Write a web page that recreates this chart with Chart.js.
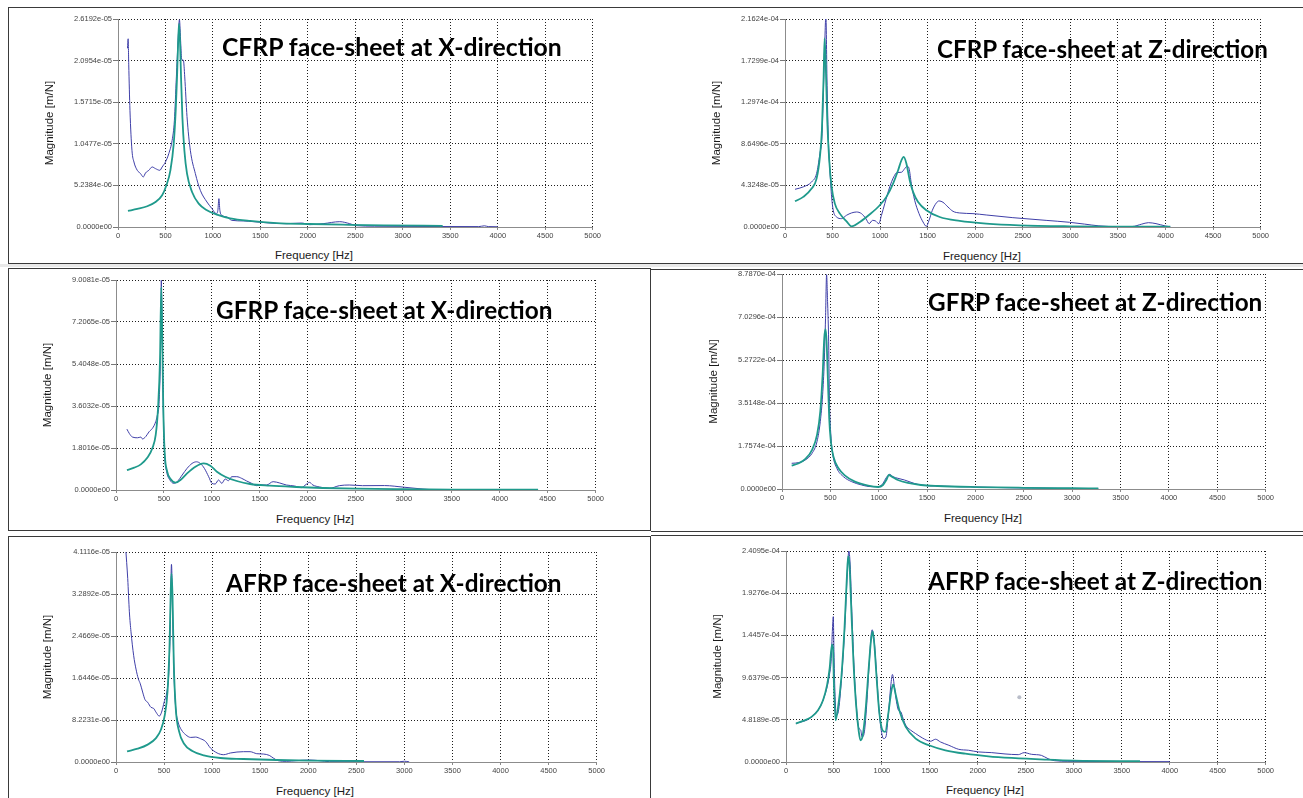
<!DOCTYPE html>
<html>
<head>
<meta charset="utf-8">
<script src="https://cdn.jsdelivr.net/npm/chart.js@4.4.1/dist/chart.umd.min.js"></script>
<style>
  body { margin: 0; width: 1303px; height: 798px; background: #fff; position: relative; overflow: hidden;
         font-family: "Liberation Sans", Arial, sans-serif; }
  .frame { position: absolute; border: 1px solid #3a3a3a; box-sizing: border-box; }
  .rule { position: absolute; height: 1px; background: #3a3a3a; }
  .band { position: absolute; background: #e9e9e9; }
  canvas { position: absolute; }
  .head { position: absolute; font: 700 24px Lato, "Open Sans", sans-serif; color: #000;
          white-space: nowrap; transform-origin: 0 50%; }
  .xtitle { position: absolute; font-size: 11.5px; color: #1a1a1a; white-space: nowrap;
            transform: translate(-50%, -50%); }
</style>
</head>
<body>

<div class="frame" style="left:8px;top:7px;width:1300px;height:257px"></div>
<div class="band" style="left:0;top:264px;width:1303px;height:3px"></div>
<div class="frame" style="left:8px;top:268px;width:643px;height:263px"></div>
<div class="rule" style="left:651px;top:269px;width:652px"></div>
<div class="rule" style="left:651px;top:531px;width:652px"></div>
<div class="rule" style="left:651px;top:535px;width:652px"></div>
<div class="frame" style="left:8px;top:536px;width:643px;height:270px"></div>

<script>
// ---- shared axis data ----
const freqTicks = { min: 0, max: 5000, step: 500 };

// ---- CFRP, X-direction (magnitudes in 1e-6 m/N) ----
const cfrpXLabels = ["0.0000e00", "5.2384e-06", "1.0477e-05", "1.5715e-05", "2.0954e-05", "2.6192e-05"];
const cfrpXMeasF = [100,107,113,126,147,168,203,238,266,290,325,360,395,441,465,500,535,570,594,615,633,647,661,671,689,703,727,762,815,867,937,990,1035,1052,1063,1073,1094,1147,1199,1322,1427,1601,1776,1934,2021,2161,2336,2441,2511,2700,3000,3400,3800,3860,3900,4000];
const cfrpXMeasM = [22.5,23.7,20.5,14.7,9.66,8.19,7.14,6.72,6.30,6.81,7.14,7.56,7.35,7.14,7.56,8.19,9.24,10.9,13.4,18.9,23.5,26.1,23.1,21.1,21.0,18.9,13.9,9.66,6.72,4.62,3.15,2.31,1.68,2.10,3.57,2.10,1.47,1.26,0.84,0.76,0.67,0.50,0.42,0.50,0.29,0.42,0.67,0.42,0.17,0.10,0.08,0.06,0.05,0.15,0.05,0.03];
const cfrpXFitF = [105,203,308,395,465,510,552,587,608,622,633,643,654,664,678,699,727,780,850,937,1042,1182,1392,1671,2021,2371,2800,3420];
const cfrpXFitM = [2.02,2.27,2.61,3.15,3.99,5.25,7.14,10.5,14.7,18.9,23.1,25.6,23.1,18.9,13.9,9.66,6.72,4.41,2.94,2.10,1.55,1.09,0.76,0.50,0.38,0.29,0.20,0.15];

// ---- CFRP, Z-direction (1e-5 m/N) ----
const cfrpZLabels = ["0.0000e00", "4.3248e-05", "8.6496e-05", "1.2974e-04", "1.7299e-04", "2.1624e-04"];
const cfrpZMeasF = [105,192,280,332,367,388,402,416,430,441,455,472,490,507,542,594,647,699,752,804,850,885,920,951,986,1014,1049,1101,1143,1178,1224,1259,1283,1304,1328,1363,1409,1451,1486,1514,1549,1591,1619,1661,1713,1766,1836,1976,2115,2395,2745,2990,3150,3300,3500,3650,3750,3820,3900,4000,4050];
const cfrpZMeasM = [3.92,4.17,4.69,5.56,7.64,9.38,13.5,18.4,22.0,15.6,9.38,5.90,3.13,1.74,1.04,0.87,1.22,1.46,1.56,1.39,0.87,0.35,0.69,0.63,0.35,1.22,2.43,4.17,5.21,5.66,5.69,6.08,6.32,6.08,4.51,2.78,1.39,0.52,0.07,0.69,1.74,2.50,2.71,2.57,2.08,1.63,1.46,1.39,1.25,0.97,0.69,0.49,0.30,0.12,0.04,0.05,0.30,0.45,0.35,0.10,0.02];
const cfrpZFitF = [105,192,280,332,367,388,406,416,427,444,465,490,524,577,647,699,787,892,996,1066,1136,1189,1224,1248,1276,1311,1346,1399,1486,1626,1836,2115,2465,2990,3500,4050];
const cfrpZFitM = [2.67,3.13,3.99,5.03,7.29,10.1,15.6,19.6,17.4,11.1,6.94,4.17,2.43,1.39,0.59,0.07,0.52,1.32,2.26,3.13,4.51,5.90,6.94,7.29,6.60,4.86,3.65,2.60,1.74,1.04,0.63,0.35,0.17,0.07,0.04,0.03];

// ---- GFRP, X-direction (1e-6 m/N) ----
const gfrpXLabels = ["0.0000e00", "1.8016e-05", "3.6032e-05", "5.4048e-05", "7.2065e-05", "9.0081e-05"];
const gfrpXMeasF = [114,138,172,224,259,276,310,345,379,414,431,448,466,472,483,493,507,528,562,603,638,690,741,793,838,879,921,966,1000,1034,1069,1103,1138,1172,1207,1259,1310,1362,1414,1466,1517,1569,1638,1707,1776,1862,1931,1983,2017,2052,2121,2224,2328,2431,2569,2800,3000,3200,3300];
const gfrpXMeasM = [26.1,24.3,22.7,22.4,22.7,21.9,22.9,25.0,26.4,29.3,32.1,37.1,63.6,90.0,63.6,35.0,15.0,7.86,4.29,2.86,3.57,6.43,9.29,11.4,12.1,11.4,9.29,5.71,2.86,2.57,4.29,2.86,4.71,4.00,5.71,5.71,5.00,3.86,2.86,1.86,2.14,2.14,3.57,3.00,2.14,1.71,1.00,2.43,3.29,2.14,1.29,0.71,1.86,2.14,1.86,1.90,1.20,0.40,0.10];
const gfrpXFitF = [114,190,259,328,379,414,438,459,472,483,493,507,534,569,621,672,741,828,914,983,1052,1138,1259,1397,1603,1879,2155,2500,3000,3500,4400];
const gfrpXFitM = [8.57,9.57,11.0,13.9,17.9,23.6,35.0,56.4,87.0,63.6,35.0,16.4,7.86,4.71,3.14,4.29,7.14,10.0,11.4,10.4,7.86,5.71,3.86,2.57,1.86,1.29,0.86,0.57,0.35,0.20,0.10];

// ---- GFRP, Z-direction (1e-5 m/N) ----
const gfrpZLabels = ["0.0000e00", "1.7574e-04", "3.5148e-04", "5.2722e-04", "7.0296e-04", "8.7870e-04"];
const gfrpZMeasF = [100,174,242,311,362,396,420,437,450,461,471,481,491,505,526,567,635,720,823,925,1000,1044,1078,1113,1147,1198,1266,1334,1403,1505,1700,2000,2350,2800,3270];
const gfrpZMeasM = [10.5,10.8,11.9,14.6,19.4,27.6,38.5,52.1,69.8,87.6,76.7,63.0,35.7,22.1,13.9,8.46,5.05,3.00,1.64,0.95,0.95,2.32,4.64,6.00,5.05,4.37,3.68,2.73,1.91,1.36,1.10,0.80,0.50,0.30,0.15];
const gfrpZFitF = [100,174,242,311,362,396,420,437,450,461,474,488,505,532,584,652,754,891,993,1044,1078,1106,1136,1198,1300,1437,1608,2000,2500,3000,3270];
const gfrpZFitM = [9.55,10.5,12.3,16.0,22.1,31.7,46.7,61.7,65.3,60.3,45.3,28.9,19.4,13.2,8.46,5.46,3.00,1.36,0.82,1.64,3.68,5.73,5.05,3.68,2.46,1.64,1.23,0.80,0.50,0.30,0.20];

// ---- AFRP, X-direction (1e-6 m/N) ----
const afrpXLabels = ["0.0000e00", "8.2231e-06", "1.6446e-05", "2.4669e-05", "3.2892e-05", "4.1116e-05"];
const afrpXMeasF = [100,122,139,156,184,208,232,253,277,302,329,364,391,416,450,474,502,529,550,564,577,591,605,622,646,680,725,777,828,880,931,983,1052,1120,1189,1258,1326,1395,1464,1533,1594,1636,1687,1773,1876,2014,2117,2220,2500,2950,3000,3050];
const afrpXMeasM = [42.0,35.9,29.4,25.5,20.8,18.2,16.3,15.3,13.7,12.2,11.7,10.7,10.5,9.76,8.98,9.76,11.8,13.7,17.7,26.2,38.7,27.5,16.3,10.4,7.81,6.31,5.34,4.81,4.88,4.55,4.03,2.73,1.76,1.43,1.76,1.95,2.02,2.02,1.63,1.56,1.30,0.78,0.26,0.13,0.26,0.39,0.26,0.07,0.05,0.05,0.15,0.03];
const afrpXFitF = [115,225,329,416,467,508,536,557,570,577,588,601,622,656,708,794,914,1086,1326,1670,2014,2580];
const afrpXFitM = [2.08,2.60,3.40,4.68,6.31,9.24,13.8,22.9,33.9,36.9,32.5,19.5,10.4,5.99,3.58,2.15,1.30,0.78,0.59,0.39,0.26,0.20];

// ---- AFRP, Z-direction (1e-5 m/N) ----
const afrpZLabels = ["0.0000e00", "4.8189e-05", "9.6379e-05", "1.4457e-04", "1.9276e-04", "2.4095e-04"];
const afrpZMeasF = [103,266,386,455,472,483,493,500,510,524,545,579,614,638,655,669,686,710,738,759,779,793,817,841,869,897,917,938,966,990,1017,1041,1069,1093,1110,1128,1152,1172,1197,1221,1248,1300,1352,1421,1507,1559,1610,1697,1800,1903,2007,2145,2283,2421,2483,2559,2662,2731,2800,2938,3400,4000];
const afrpZMeasM = [4.39,5.15,7.06,10.1,11.8,14.9,16.6,12.6,8.02,5.34,5.73,9.54,15.6,21.4,24.1,22.5,17.2,10.7,5.73,3.89,3.63,2.86,3.44,6.49,11.5,15.1,14.1,11.1,6.49,3.82,2.67,2.86,5.73,8.78,10.0,8.78,6.87,5.92,5.73,4.96,4.20,3.63,3.24,2.75,2.37,2.60,2.29,1.91,1.45,1.34,1.15,1.07,0.92,0.84,1.07,0.88,0.76,0.38,0.15,0.08,0.05,0.04];
const afrpZFitF = [103,179,266,334,386,428,455,479,490,500,517,541,576,610,634,648,662,679,703,731,759,776,800,828,862,886,903,921,945,972,1007,1034,1069,1097,1117,1145,1186,1248,1352,1490,1662,1869,2110,2352,2697,3007,3690];
const afrpZFitM = [4.39,4.69,5.15,5.92,7.06,8.78,10.7,13.4,13.0,8.78,4.77,6.11,9.54,15.3,21.0,23.5,22.5,17.9,11.5,6.49,3.44,2.48,3.05,5.73,10.7,13.9,14.9,13.4,9.54,5.73,3.60,3.44,5.73,8.02,8.85,7.63,5.73,4.01,2.67,1.91,1.34,0.95,0.65,0.46,0.27,0.15,0.10];
const afrpZStray = [[2432, 7.40]];

// ---- panel layout: plot box [left, top, right, bottom], heading, x-title centre ----
const PANELS = [
  { title: "CFRP face-sheet at X-direction", unit: 1e-6, labels: cfrpXLabels,
    meas: [cfrpXMeasF, cfrpXMeasM], fit: [cfrpXFitF, cfrpXFitM],
    box: [118, 19, 594, 227], head: [222, 46, 340], xt: [314, 255] },
  { title: "CFRP face-sheet at Z-direction", unit: 1e-5, labels: cfrpZLabels,
    meas: [cfrpZMeasF, cfrpZMeasM], fit: [cfrpZFitF, cfrpZFitM],
    box: [785, 19, 1262, 227], head: [937, 48, 331], xt: [982, 256] },
  { title: "GFRP face-sheet at X-direction", unit: 1e-6, labels: gfrpXLabels,
    meas: [gfrpXMeasF, gfrpXMeasM], fit: [gfrpXFitF, gfrpXFitM],
    box: [116, 280, 597, 490], head: [216, 309, 336], xt: [315, 519] },
  { title: "GFRP face-sheet at Z-direction", unit: 1e-5, labels: gfrpZLabels,
    meas: [gfrpZMeasF, gfrpZMeasM], fit: [gfrpZFitF, gfrpZFitM],
    box: [782, 274, 1267, 489], head: [928, 301, 334], xt: [983, 518] },
  { title: "AFRP face-sheet at X-direction", unit: 1e-6, labels: afrpXLabels,
    meas: [afrpXMeasF, afrpXMeasM], fit: [afrpXFitF, afrpXFitM],
    box: [116, 552, 598, 762], head: [226, 582, 336], xt: [315, 791] },
  { title: "AFRP face-sheet at Z-direction", unit: 1e-5, labels: afrpZLabels,
    meas: [afrpZMeasF, afrpZMeasM], fit: [afrpZFitF, afrpZFitM], stray: afrpZStray,
    box: [786, 551, 1267, 762], head: [928, 580, 335], xt: [985, 790] }
];

const PAD_L = 80, PAD_R = 8, PAD_T = 8, PAD_B = 20;
const MEAS_COLOR = "#3f3fa8";
const FIT_COLOR = "#1f9a8c";
const GRID_COLOR = "#1e1e1e";
const TICK_FONT = { family: "Liberation Sans, Arial, sans-serif", size: 7.5 };

function toPoints(freqs, mags, unit) {
  return freqs.map((f, i) => ({ x: f, y: mags[i] * unit }));
}

function buildPanel(p) {
  const [L, T, R, B] = p.box;
  const w = R - L + PAD_L + PAD_R;
  const h = B - T + PAD_T + PAD_B;

  const canvas = document.createElement("canvas");
  canvas.width = w;
  canvas.height = h;
  canvas.style.left = (L - PAD_L) + "px";
  canvas.style.top = (T - PAD_T) + "px";
  canvas.style.width = w + "px";
  canvas.style.height = h + "px";
  document.body.appendChild(canvas);

  const yVals = p.labels.map(s => parseFloat(s));

  const datasets = [
    { label: "fit", data: toPoints(p.fit[0], p.fit[1], p.unit),
      borderColor: FIT_COLOR, borderWidth: 1.8, cubicInterpolationMode: "monotone" },
    { label: "measured", data: toPoints(p.meas[0], p.meas[1], p.unit),
      borderColor: MEAS_COLOR, borderWidth: 1, cubicInterpolationMode: "monotone" }
  ];
  if (p.stray) {
    datasets.push({ label: "stray", data: p.stray.map(d => ({ x: d[0], y: d[1] * p.unit })),
      showLine: false, pointRadius: 2, backgroundColor: "#b9bdc9", borderWidth: 0 });
  }

  new Chart(canvas, {
    type: "scatter",
    data: { datasets: datasets.map(d => Object.assign({ showLine: true, pointRadius: 0, fill: false }, d)) },
    options: {
      responsive: false,
      animation: false,
      devicePixelRatio: 1,
      layout: { padding: { left: 0, top: PAD_T, right: PAD_R, bottom: 0 } },
      plugins: { legend: { display: false }, tooltip: { enabled: false } },
      scales: {
        x: {
          type: "linear", min: freqTicks.min, max: freqTicks.max,
          afterFit: s => { s.height = PAD_B; },
          ticks: { stepSize: freqTicks.step, autoSkip: false, maxRotation: 0, padding: 1,
                   color: "#444", font: TICK_FONT, callback: v => String(v) },
          grid: { color: GRID_COLOR, lineWidth: 1, tickLength: 3, tickColor: "#888" },
          border: { color: "#8c8c8c", width: 1, dash: [1, 2] }
        },
        y: {
          type: "linear", min: 0, max: yVals[yVals.length - 1],
          afterFit: s => { s.width = PAD_L; },
          afterBuildTicks: s => { s.ticks = yVals.map(v => ({ value: v })); },
          ticks: { callback: (v, i) => p.labels[i], padding: 1, color: "#444", font: TICK_FONT },
          grid: { color: GRID_COLOR, lineWidth: 1, tickLength: 5, tickColor: "#777" },
          border: { color: "#8c8c8c", width: 1, dash: [1, 2] },
          title: { display: true, text: "Magnitude [m/N]", color: "#1a1a1a",
                   font: { family: "Liberation Sans, Arial, sans-serif", size: 11.5 },
                   padding: { top: 5, bottom: 0 } }
        }
      }
    }
  });

  // heading inside the plot
  const head = document.createElement("div");
  head.className = "head";
  head.textContent = p.title;
  head.style.left = p.head[0] + "px";
  head.style.top = p.head[1] + "px";
  document.body.appendChild(head);
  const k = p.head[2] / head.offsetWidth;
  head.style.transform = "translateY(-50%) scaleX(" + k.toFixed(3) + ")";

  // frequency axis title
  const xt = document.createElement("div");
  xt.className = "xtitle";
  xt.textContent = "Frequency [Hz]";
  xt.style.left = p.xt[0] + "px";
  xt.style.top = p.xt[1] + "px";
  document.body.appendChild(xt);
}

PANELS.forEach(buildPanel);
</script>
</body>
</html>
